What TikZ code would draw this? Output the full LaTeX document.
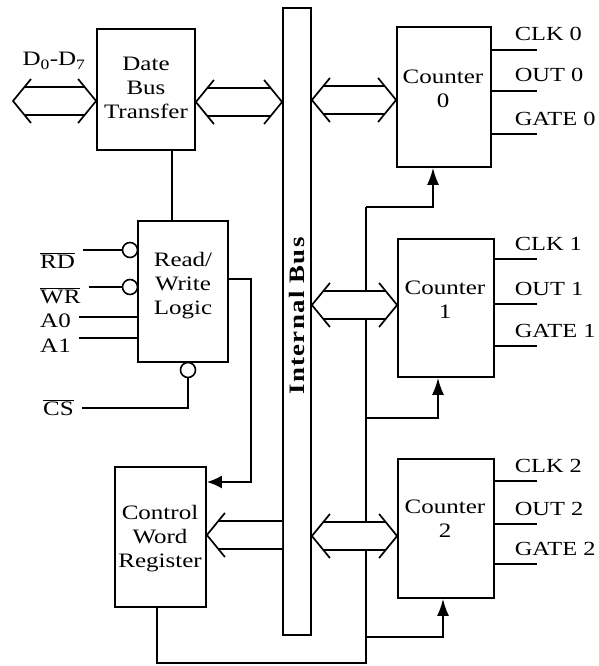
\documentclass[tikz,border=0pt]{standalone}
\usepackage{fontspec}
\setmainfont{Liberation Serif}[FakeStretch=1.22]
\usetikzlibrary{arrows.meta,calc}

% hollow bus arrows: \dbus has two heads, \lbus one head at its left end
\newcommand{\dbus}[2]{%
 \path[fill=white] let \p1=#1,\p2=#2 in (\x1,\y1) -- (\x1+11.5pt,\y1+14pt) -- (\x2-11.5pt,\y1+14pt) -- (\x2,\y1)
  -- (\x2-11.5pt,\y1-14pt) -- (\x1+11.5pt,\y1-14pt) -- cycle;
 \draw[busline] let \p1=#1,\p2=#2 in (\x1+18pt,\y1+22pt) -- (\x1,\y1) -- (\x1+18pt,\y1-22pt)
  (\x2-18pt,\y1+22pt) -- (\x2,\y1) -- (\x2-18pt,\y1-22pt)
  (\x1+11.5pt,\y1+14pt) -- (\x2-11.5pt,\y1+14pt) (\x1+11.5pt,\y1-14pt) -- (\x2-11.5pt,\y1-14pt);}
\newcommand{\lbus}[2]{%
 \path[fill=white] let \p1=#1,\p2=#2 in (\x1,\y1) -- (\x1+11.5pt,\y1+14pt) -- (\x2,\y1+14pt)
  -- (\x2,\y1-14pt) -- (\x1+11.5pt,\y1-14pt) -- cycle;
 \draw[busline] let \p1=#1,\p2=#2 in (\x1+18pt,\y1+22pt) -- (\x1,\y1) -- (\x1+18pt,\y1-22pt)
  (\x1+11.5pt,\y1+14pt) -- (\x2,\y1+14pt) (\x1+11.5pt,\y1-14pt) -- (\x2,\y1-14pt);}

\begin{document}
\begin{tikzpicture}[x=1pt,y=-1pt,font=\fontsize{20.5}{24}\selectfont]
\tikzset{blk/.style={draw,line width=1.8pt,inner sep=0pt},
 txt/.style={align=center,inner sep=0pt},
 wire/.style={line width=1.7pt},
 busline/.style={line width=1.7pt},
 ctl/.style={wire,-{Latex[length=17pt,width=12pt]}},
 bub/.style={circle,draw,line width=1.6pt,fill=white,minimum size=15pt,inner sep=0pt},
 sig/.style={anchor=base west,inner xsep=8pt,inner ysep=0pt},
 pinlbl/.style={anchor=base west,xshift=-23pt,yshift=9pt,inner sep=0pt,font=\fontsize{20}{24}\selectfont}}
\useasboundingbox (0,0) rectangle (599,666);
% blocks
\node[blk,minimum width=98pt,minimum height=121pt] (dbt) at (146,89.5) {};
\node[blk,minimum width=90pt,minimum height=141pt] (rw) at (183,291.5) {};
\node[blk,minimum width=91pt,minimum height=140pt] (cwr) at (160.5,537) {};
\node[blk,minimum width=28pt,minimum height=627pt] (bus) at (297,321.5) {};
\node[blk,minimum width=94pt,minimum height=140pt] (c0) at (444,97) {};
\node[blk,minimum width=96pt,minimum height=138pt] (c1) at (446,308) {};
\node[blk,minimum width=96pt,minimum height=139pt] (c2) at (446,528.5) {};
\node[txt] (tdbt) at (146,88) {Date\\Bus\\Transfer};
\node[txt] (trw) at (183,286) {Read/\\Write\\Logic};
\node[txt] (tcwr) at (160,539) {Control\\Word\\Register};
\node[txt] (tc0) at (443,89) {Counter\\0};
\node[txt] (tc1) at (445,300) {Counter\\1};
\node[txt] (tc2) at (445,519) {Counter\\2};
\node[txt,rotate=90,font=\bfseries\fontsize{22}{24}\selectfont\addfontfeature{LetterSpace=6}] (tbus) at (297,316) {Internal Bus};
% control inputs
\node[txt,anchor=base] (dlbl) at (54,66) {D\textsubscript{0}-D\textsubscript{7}};
\node[sig] (rd) at (32,268) {$\overline{\hbox{RD}}$};
\node[sig] (wr) at (32,303) {$\overline{\hbox{WR}}$};
\node[sig] (a0) at (32,327) {A0};
\node[sig] (a1) at (32,352) {A1};
\node[sig] (cs) at (35,415) {$\overline{\hbox{CS}}$};
\node[bub] (rdb) at (130,250) {};
\node[bub] (wrb) at (130,287) {};
\node[bub] (csb) at (188,370) {};
\coordinate (a0p) at (138,317);
\coordinate (a1p) at (138,338);
\draw[wire] (rd.east |- rdb) -- (rdb);
\draw[wire] (wr.east |- wrb) -- (wrb);
\draw[wire] (a0.east |- a0p) -- (a0p);
\draw[wire] (a1.east |- a1p) -- (a1p);
\draw[wire] (csb.south) |- (cs.east |- 0,408);
\draw[wire] ([xshift=26pt]dbt.south) -- ([xshift=26pt]dbt.south |- rw.north);
\draw[wire,-{Latex[length=15pt,width=13pt]}] ([yshift=12.5pt]rw.east) -- ++(22,0) |- ([yshift=55pt]cwr.east);
% gate lines
\coordinate (tb) at (366,663);
\coordinate (tt) at (366,207);
\draw[wire] ([xshift=-3.5pt]cwr.south) |- (tb) -- (tt);
\draw[ctl] (tt) -| ([xshift=-11pt]c0.south);
\draw[ctl] (tt |- 0,418) -| ([xshift=-8pt]c1.south);
\draw[ctl] (tt |- 0,637) -| ([xshift=-3pt]c2.south);
% counter pins
\draw[wire] (c0.east |- 0,50) -- (537,50) node[pinlbl] (clk0) {CLK 0};
\draw[wire] (c0.east |- 0,91) -- (537,91) node[pinlbl] (out0) {OUT 0};
\draw[wire] (c0.east |- 0,134) -- (537,134) node[pinlbl] (gate0) {GATE 0};
\draw[wire] (c1.east |- 0,259) -- (537,259) node[pinlbl] (clk1) {CLK 1};
\draw[wire] (c1.east |- 0,304) -- (537,304) node[pinlbl] (out1) {OUT 1};
\draw[wire] (c1.east |- 0,346) -- (537,346) node[pinlbl] (gate1) {GATE 1};
\draw[wire] (c2.east |- 0,481) -- (537,481) node[pinlbl] (clk2) {CLK 2};
\draw[wire] (c2.east |- 0,524) -- (537,524) node[pinlbl] (out2) {OUT 2};
\draw[wire] (c2.east |- 0,564) -- (537,564) node[pinlbl] (gate2) {GATE 2};
% bus arrows
\coordinate (din) at (13,101);
\dbus{(din)}{(dbt.west |- 0,101)}
\dbus{(dbt.east |- 0,102)}{(bus.west |- 0,102)}
\dbus{(bus.east |- 0,100)}{(c0.west |- 0,100)}
\dbus{(bus.east |- 0,305)}{(c1.west |- 0,305)}
\dbus{(bus.east |- 0,536)}{(c2.west |- 0,536)}
\lbus{(cwr.east |- 0,535)}{(bus.west |- 0,535)}
\end{tikzpicture}
\end{document}
